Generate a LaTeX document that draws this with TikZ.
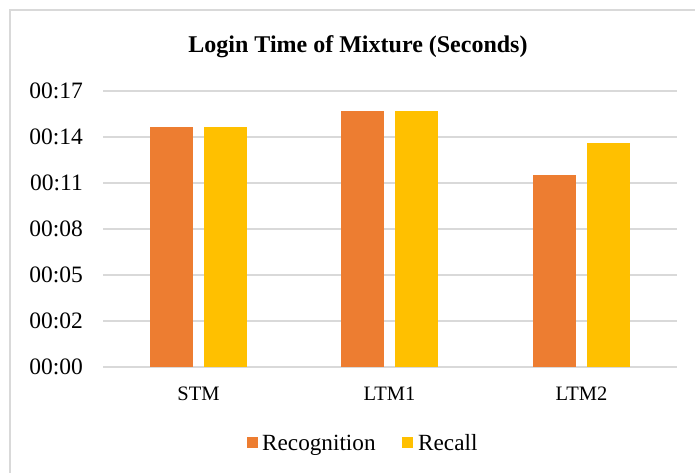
\documentclass[tikz,border=0pt]{standalone}
\usepackage{fontspec}
\setmainfont{Liberation Serif}
\usetikzlibrary{calc}
\definecolor{recog}{HTML}{ED7D31}
\definecolor{recall}{HTML}{FFC000}
\definecolor{gridgray}{HTML}{D9D9D9}
\tikzset{
  gridline/.style={draw=gridgray,line width=2pt},
  ticklabel/.style={anchor=east,inner sep=0pt,font=\fontsize{23.5}{25}\selectfont},
  catlabel/.style={anchor=base,inner sep=0pt,font=\fontsize{20.5}{22}\selectfont},
  legendlabel/.style={anchor=base west,inner sep=0pt,font=\fontsize{23.2}{25}\selectfont}
}
\begin{document}
\begin{tikzpicture}[x=1pt,y=-1pt]
            \useasboundingbox (0,0) rectangle (695,473);
            \fill[white] (0,0) rectangle (695,473);
            \draw[gridgray,line width=2pt] (10,490) |- (710,10);
            \node[anchor=base,inner sep=0pt,font=\bfseries\fontsize{24}{26}\selectfont] (title) at (358,53) {Login Time of Mixture (Seconds)};
            \foreach \t [count=\i from 0] in {00,02,05,08,11,14,17} {
                \draw[gridline] (103,367-46*\i) -- (677,367-46*\i);
                \node[ticklabel] (tick\i) at (83,367-46*\i) {00:\t};
            }
            \foreach \cx/\rc/\rl/\name in {198.5/15.65/15.65/STM,389.5/16.7/16.7/LTM1,581.5/12.5/14.6/LTM2} {
                \fill[recog] (\cx-48.5,367) rectangle (\cx-5.5,367-\rc*46/3);
                \fill[recall] (\cx+5.5,367) rectangle (\cx+48.5,367-\rl*46/3);
                \node[catlabel] (cat\name) at (\cx,400) {\name};
            }
            \fill[recog] (247,437) rectangle (258,448);
            \node[legendlabel] (legrecog) at (262,450) {Recognition};
            \fill[recall] (402,437) rectangle (413,448);
            \node[legendlabel] (legrecall) at (418,450) {Recall};
        \end{tikzpicture}
\end{document}
